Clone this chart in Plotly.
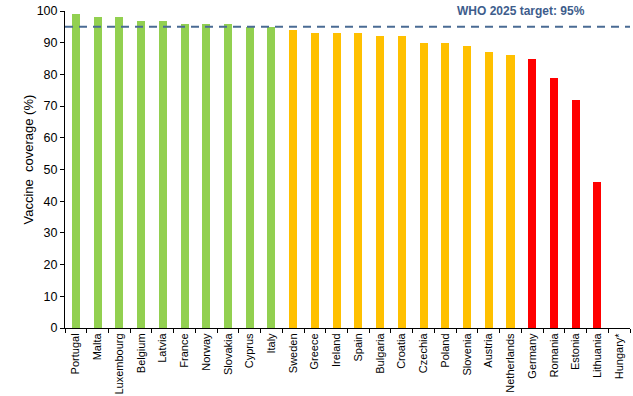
import plotly.graph_objects as go

countries = ["Portugal", "Malta", "Luxembourg", "Belgium", "Latvia", "France", "Norway",
             "Slovakia", "Cyprus", "Italy", "Sweden", "Greece", "Ireland", "Spain",
             "Bulgaria", "Croatia", "Czechia", "Poland", "Slovenia", "Austria",
             "Netherlands", "Germany", "Romania", "Estonia", "Lithuania", "Hungary*"]
coverage = [99, 98, 98, 97, 97, 96, 96, 96, 95, 95, 94, 93, 93, 93, 92, 92, 90, 90,
            89, 87, 86, 85, 79, 72, 46, None]
groups = ["green"] * 10 + ["yellow"] * 11 + ["red"] * 4 + ["none"]
group_colors = {"green": "#92D050", "yellow": "#FFC000", "red": "#FF0000", "none": "#FFFFFF"}
target = 95
y_ticks = [0, 10, 20, 30, 40, 50, 60, 70, 80, 90, 100]

fig = go.Figure()
fig.add_trace(go.Bar(
    x=countries, y=coverage,
    marker=dict(color=[group_colors[g] for g in groups], line=dict(width=0)),
    width=0.37,
))
fig.add_shape(type="line", xref="paper", x0=0, x1=1, yref="y", y0=target, y1=target,
              line=dict(color="#4A6B94", width=2, dash="8px,6px"))
fig.add_annotation(text="<b>WHO 2025 target: 95%</b>", xref="paper", x=0.807, y=100,
                   yref="y", xanchor="center", yanchor="middle", showarrow=False,
                   font=dict(family="Liberation Sans", size=12, color="#3E5D8C"))
fig.add_annotation(text="Vaccine&nbsp; coverage (%)", xref="paper", yref="paper",
                   x=-0.0646, y=0.53, xanchor="center", yanchor="middle",
                   textangle=-90, showarrow=False,
                   font=dict(family="Liberation Sans", size=13, color="#000000"))

fig.update_layout(
    width=633, height=396,
    margin=dict(l=65, r=3, t=11, b=68),
    paper_bgcolor="white", plot_bgcolor="white",
    showlegend=False,
    font=dict(family="Liberation Sans", color="#000000"),
    bargap=0,
)
fig.update_xaxes(
    showline=True, linecolor="#000000", linewidth=1,
    ticks="outside", tickson="boundaries", ticklen=4, tickcolor="#000000",
    tickangle=-90, tickfont=dict(size=11, family="Liberation Sans"),
    range=[-0.5, 25.5], automargin=False,
)
fig.update_yaxes(
    range=[0, 100], tickvals=y_ticks, showgrid=False, zeroline=False,
    showline=True, linecolor="#000000", linewidth=1,
    ticks="outside", ticklen=4, tickcolor="#000000",
    tickfont=dict(size=12.5, family="Liberation Sans"), automargin=False,
)

fig.write_html("out.html", config={"displayModeBar": False},
               post_script="document.body.style.margin='0';")
